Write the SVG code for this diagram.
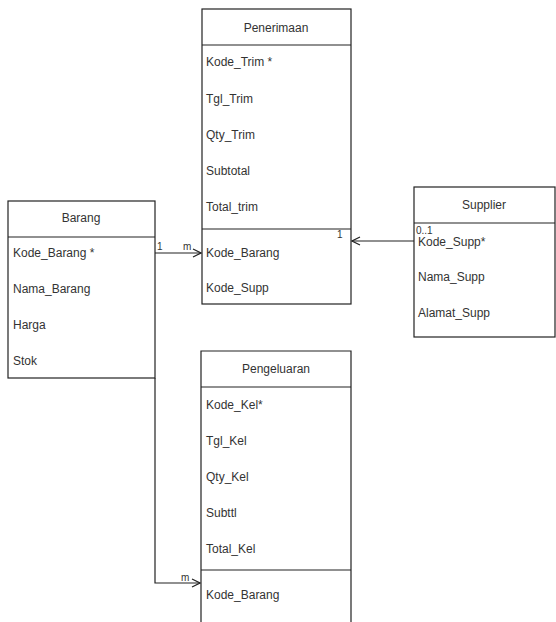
<svg xmlns="http://www.w3.org/2000/svg" width="556" height="622" viewBox="0 0 556 622">
<style>
.box{fill:#fff;stroke:#222;stroke-width:1.2}
.ln{stroke:#222;stroke-width:1.2;fill:none}
text{font-family:"Liberation Sans",Arial,sans-serif;font-size:12px;fill:#333}
.t{text-anchor:middle}
.lbl{font-size:10px}
</style>
<defs>
<marker id="arr" markerWidth="10" markerHeight="10" refX="9" refY="5" orient="auto" markerUnits="userSpaceOnUse">
<path d="M1,1 L9,5 L1,9" fill="none" stroke="#222" stroke-width="1.2"/>
</marker>
</defs>
<rect width="556" height="622" fill="#fff"/>
<g id="penerimaan">
<rect class="box" x="202" y="9" width="149" height="295"/>
<line class="ln" x1="202" y1="45" x2="351" y2="45"/>
<line class="ln" x1="202" y1="229" x2="351" y2="229"/>
<text class="t" x="276" y="32">Penerimaan</text>
<text x="206" y="66">Kode_Trim *</text>
<text x="206" y="103">Tgl_Trim</text>
<text x="206" y="139">Qty_Trim</text>
<text x="206" y="175">Subtotal</text>
<text x="206" y="211">Total_trim</text>
<text x="206" y="257">Kode_Barang</text>
<text x="206" y="292">Kode_Supp</text>
</g>
<g id="barang">
<rect class="box" x="8" y="201" width="147" height="177"/>
<line class="ln" x1="8" y1="237" x2="155" y2="237"/>
<text class="t" x="81" y="222">Barang</text>
<text x="13" y="257">Kode_Barang *</text>
<text x="13" y="293">Nama_Barang</text>
<text x="13" y="329">Harga</text>
<text x="13" y="365">Stok</text>
</g>
<g id="supplier">
<rect class="box" x="414" y="187" width="141" height="150"/>
<line class="ln" x1="414" y1="223" x2="555" y2="223"/>
<text class="t" x="484" y="209">Supplier</text>
<text x="418" y="246">Kode_Supp*</text>
<text x="418" y="281">Nama_Supp</text>
<text x="418" y="317">Alamat_Supp</text>
</g>
<g id="pengeluaran">
<path class="box" d="M201,630 V351 H351 V630"/>
<line class="ln" x1="201" y1="387" x2="351" y2="387"/>
<line class="ln" x1="201" y1="570" x2="351" y2="570"/>
<text class="t" x="276" y="373">Pengeluaran</text>
<text x="206" y="409">Kode_Kel*</text>
<text x="206" y="445">Tgl_Kel</text>
<text x="206" y="481">Qty_Kel</text>
<text x="206" y="517">Subttl</text>
<text x="206" y="553">Total_Kel</text>
<text x="206" y="599">Kode_Barang</text>
</g>
<g id="connectors">
<path class="ln" d="M155,253 H201" marker-end="url(#arr)"/>
<path class="ln" d="M414,241 H352" marker-end="url(#arr)"/>
<path class="ln" d="M155,378 V583 H200" marker-end="url(#arr)"/>
<text class="lbl" x="157" y="250">1</text>
<text class="lbl" x="183" y="250">m</text>
<text class="lbl" x="337" y="238">1</text>
<text class="lbl" x="416" y="234">0..1</text>
<text class="lbl" x="181" y="581">m</text>
</g>
</svg>
